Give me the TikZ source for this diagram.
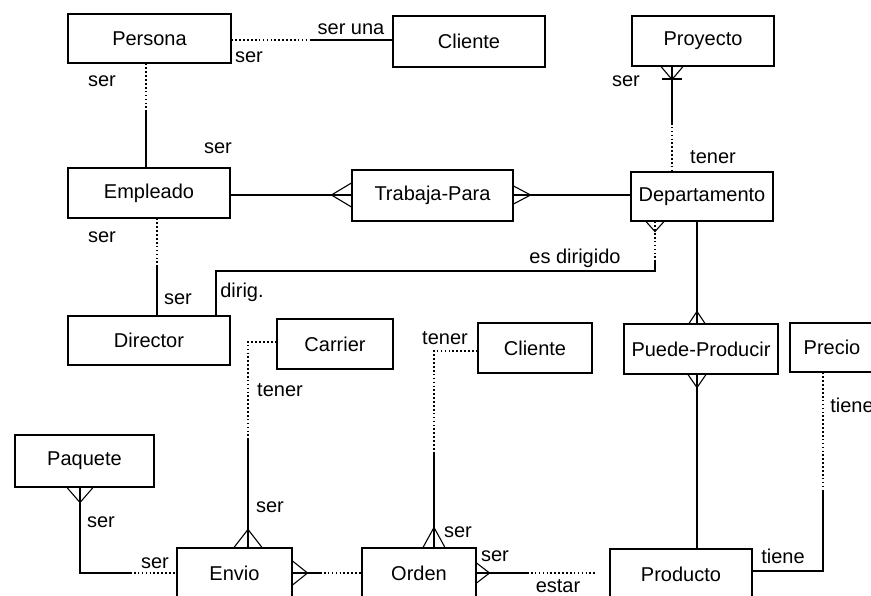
\documentclass[tikz,border=0pt]{standalone}
\usepackage{fontspec}
\setmainfont{Liberation Sans}
\begin{document}
\begin{tikzpicture}[x=1pt,y=-1pt,line width=1.1pt,
  ent/.style={draw,rectangle,inner sep=0pt,font=\fontsize{20}{24}\selectfont},
  lbl/.style={inner sep=0pt,font=\fontsize{20}{24}\selectfont},
  dots/.style={line width=1.3pt,dash pattern=on 1.6pt off 2.3pt},
  pics/crow/.style n args={2}{code={\draw (-#2,0) -- (0,#1) -- (#2,0);}}]
\useasboundingbox (0,0) rectangle (871,596);
\clip (0,0) rectangle (871,596);
% entities
\node[ent,minimum width=163pt,minimum height=49pt] (per) at (149.5,38.5) {Persona};
\node[ent,minimum width=152pt,minimum height=51pt] (cli1) at (469,41.5) {Cliente};
\node[ent,minimum width=142pt,minimum height=50pt] (pro) at (703,41) {Proyecto};
\node[ent,minimum width=162pt,minimum height=50pt] (emp) at (149,193) {Empleado};
\node[ent,minimum width=161pt,minimum height=51pt] (tra) at (432.5,195.5) {Trabaja-Para};
\node[ent,minimum width=142pt,minimum height=49pt] (dep) at (702,196.5) {Departamento};
\node[ent,minimum width=162pt,minimum height=49pt] (dir) at (149,340.5) {Director};
\node[ent,minimum width=116pt,minimum height=50pt] (car) at (335,344) {Carrier};
\node[ent,minimum width=114pt,minimum height=50pt] (cli2) at (535,348) {Cliente};
\node[ent,minimum width=154pt,minimum height=50pt] (pp) at (701,349) {Puede-Producir};
\node[ent,minimum width=84pt,minimum height=49pt] (pre) at (832,347.5) {Precio};
\node[ent,minimum width=139pt,minimum height=52pt] (paq) at (84.5,461) {Paquete};
\node[ent,minimum width=115pt,minimum height=50pt] (env) at (234.5,573) {Envio};
\node[ent,minimum width=114pt,minimum height=50pt] (ord) at (419,573) {Orden};
\node[ent,minimum width=142pt,minimum height=50pt] (prod) at (681,574) {Producto};
% Persona - Cliente
\coordinate (a1) at (310,40);
\draw[dots] (per.east |- a1) -- (a1);
\draw (a1) -- (cli1.west |- a1);
% Persona - Empleado
\coordinate (a2) at (146,110);
\draw[dots] (per.south -| a2) -- (a2);
\draw (a2) -- (emp.north -| a2);
% Empleado - Trabaja-Para - Departamento
\coordinate (t1) at (0,195);
\draw (emp.east |- t1) -- (tra.west |- t1);
\pic[rotate=-90] at (tra.west |- t1) {crow={20}{12}};
\draw (tra.east |- t1) -- (dep.west |- t1);
\pic[rotate=90] at (tra.east |- t1) {crow={17}{9}};
% Proyecto - Departamento
\coordinate (p1) at (672,79);
\coordinate (p2) at (672,123);
\draw (pro.south -| p1) -- (p2);
\draw[dots] (p2) -- (dep.north -| p2);
\pic at (pro.south -| p1) {crow={13}{11}};
\draw ([xshift=-10pt]p1) -- ([xshift=10pt]p1);
% Empleado - Director
\coordinate (b1) at (157,266);
\draw[dots] (emp.south -| b1) -- (b1);
\draw (b1) -- (dir.north -| b1);
% Director - Departamento
\coordinate (d0) at (216,271);
\coordinate (d1) at (655,271);
\coordinate (d2) at (655,262);
\draw (dir.north -| d0) -- (d0) -- (d1) -- (d2);
\draw[dots] (d2) -- (dep.south -| d2);
\pic at (dep.south -| d2) {crow={10}{9}};
% Departamento - Puede-Producir - Producto
\coordinate (q) at (697,0);
\draw (dep.south -| q) -- (pp.north -| q);
\pic[rotate=180] at (pp.north -| q) {crow={12}{8}};
\draw (pp.south -| q) -- (prod.north -| q);
\pic at (pp.south -| q) {crow={13}{9}};
% Precio - Producto
\coordinate (r1) at (823,490);
\coordinate (r2) at (823,571);
\draw[dots] (pre.south -| r1) -- (r1);
\draw (r1) -- (r2) -- (prod.east |- r2);
% Carrier - Envio
\coordinate (c0) at (248,342);
\coordinate (c1) at (248,440);
\draw[dots] (car.west |- c0) -- (c0) -- (c1);
\draw (c1) -- (env.north -| c1);
\pic[rotate=180] at (env.north -| c1) {crow={18}{14}};
% Cliente - Orden
\coordinate (k0) at (434,351);
\coordinate (k1) at (434,453);
\draw[dots] (cli2.west |- k0) -- (k0) -- (k1);
\draw (k1) -- (ord.north -| k1);
\pic[rotate=180] at (ord.north -| k1) {crow={20}{11}};
% Envio - Orden
\coordinate (e0) at (0,573);
\coordinate (e1) at (320,573);
\draw (env.east |- e0) -- (e1);
\draw[dots] (e1) -- (ord.west |- e0);
\pic[rotate=90] at (env.east |- e0) {crow={15}{12}};
% Orden - (Producto)
\coordinate (o1) at (527,573);
\coordinate (o2) at (597,573);
\draw (ord.east |- o1) -- (o1);
\draw[dots] (o1) -- (o2);
\pic[rotate=90] at (ord.east |- o1) {crow={13}{10}};
% Paquete - Envio
\coordinate (g0) at (80,573);
\coordinate (g1) at (130,573);
\draw (paq.south -| g0) -- (g0) -- (g1);
\draw[dots] (g1) -- (env.west |- g1);
\pic at (paq.south -| g0) {crow={15}{13}};
% labels
\node[lbl] (l1) at (351,29) {ser una};
\node[lbl] (l2) at (249,57) {ser};
\node[lbl] (l3) at (102,81) {ser};
\node[lbl] (l4) at (218,148) {ser};
\node[lbl] (l5) at (626,81) {ser};
\node[lbl] (l6) at (713,157) {tener};
\node[lbl] (l7) at (102,237) {ser};
\node[lbl] (l8) at (178,299) {ser};
\node[lbl] (l9) at (242,292) {dirig.};
\node[lbl] (l10) at (575,258) {es dirigido};
\node[lbl] (l11) at (280,390) {tener};
\node[lbl] (l12) at (445,338) {tener};
\node[lbl] (l13) at (852,405) {tiene};
\node[lbl] (l14) at (783,556) {tiene};
\node[lbl] (l15) at (101,522) {ser};
\node[lbl] (l16) at (155,563) {ser};
\node[lbl] (l17) at (270,507) {ser};
\node[lbl] (l18) at (458,532) {ser};
\node[lbl] (l19) at (495,556) {ser};
\node[lbl] (l20) at (558,586) {estar};
\end{tikzpicture}
\end{document}
